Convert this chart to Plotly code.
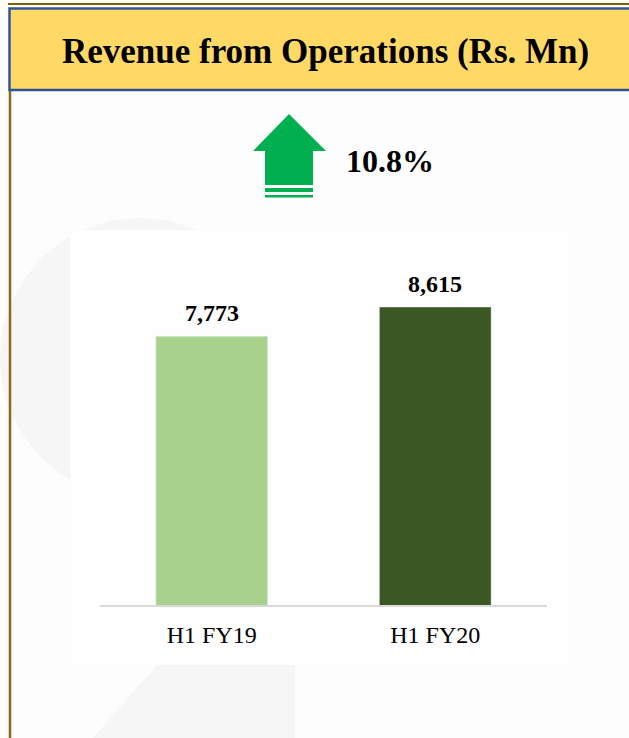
import plotly.graph_objects as go

categories = ["H1 FY19", "H1 FY20"]
revenue = [7773, 8615]
value_labels = ["7,773", "8,615"]
bar_colors = ["#A9D18E", "#3A5724"]
growth_label = "10.8%"
title_text = "Revenue from Operations (Rs. Mn)"

W, H = 629, 738
def fx(x): return x / W
def fy(y): return 1 - y / H

FONT = "Liberation Serif, Times New Roman, serif"

fig = go.Figure()
fig.add_trace(go.Bar(
    x=categories, y=revenue, marker_color=bar_colors, width=0.5,
    hoverinfo="skip",
))

# y scale: 0 at px 606, 8615 at px 307
px_per_unit = (606 - 307) / 8615
ymax = (606 - 230) / px_per_unit

shapes = []
# decorative faint background shapes
shapes.append(dict(type="circle", xref="paper", yref="paper",
                   x0=fx(0), x1=fx(280), y0=fy(218), y1=fy(498),
                   fillcolor="#F6F6F6", line=dict(width=0), layer="below"))
shapes.append(dict(type="path", xref="paper", yref="paper",
                   path=f"M {fx(157)} {fy(665)} L {fx(295)} {fy(665)} L {fx(295)} {fy(738)} L {fx(93)} {fy(738)} Z",
                   fillcolor="#F6F6F6", line=dict(width=0), layer="below"))
shapes.append(dict(type="rect", xref="paper", yref="paper",
                   x0=fx(70), x1=fx(570), y0=fy(230), y1=fy(665),
                   fillcolor="#FEFEFE", line=dict(width=0), layer="below"))
# outer gold borders
shapes.append(dict(type="line", xref="paper", yref="paper",
                   x0=fx(8), x1=fx(629), y0=fy(4), y1=fy(4),
                   line=dict(color="#7F6000", width=2)))
shapes.append(dict(type="line", xref="paper", yref="paper",
                   x0=fx(10), x1=fx(10), y0=fy(90), y1=fy(738),
                   line=dict(color="#8B6914", width=2.5)))
# header box
shapes.append(dict(type="rect", xref="paper", yref="paper",
                   x0=fx(9.5), x1=fx(632), y0=fy(90), y1=fy(8.5),
                   fillcolor="#FFD966", line=dict(color="#2F5597", width=2.5)))
# baseline
shapes.append(dict(type="line", xref="paper", yref="paper",
                   x0=fx(100), x1=fx(547), y0=fy(606), y1=fy(606),
                   line=dict(color="#D9D9D9", width=2)))
# arrow
arrow = [(289, 114), (253, 151), (265, 151), (265, 185), (313, 185), (313, 151), (326, 151)]
path = "M " + " L ".join(f"{fx(a)} {fy(b)}" for a, b in arrow) + " Z"
shapes.append(dict(type="path", xref="paper", yref="paper", path=path,
                   fillcolor="#00B050", line=dict(width=0)))
for y0, y1 in [(188, 192), (195, 197.5)]:
    shapes.append(dict(type="rect", xref="paper", yref="paper",
                       x0=fx(265), x1=fx(313), y0=fy(y1), y1=fy(y0),
                       fillcolor="#00B050", line=dict(width=0)))

annotations = [
    dict(text=f"<b>{title_text}</b>", x=fx(325), y=fy(52), xref="paper", yref="paper",
         showarrow=False, xanchor="center", yanchor="middle",
         font=dict(family=FONT, size=35, color="#000000")),
    dict(text=f"<b>{growth_label}</b>", x=fx(344), y=fy(161), xref="paper", yref="paper",
         showarrow=False, xanchor="left", yanchor="middle",
         font=dict(family=FONT, size=32, color="#000000")),
]
for c, v, lab in zip(categories, revenue, value_labels):
    annotations.append(dict(text=f"<b>{lab}</b>", x=c, y=v, xref="x", yref="y",
                            showarrow=False, xanchor="center", yanchor="middle",
                            yshift=23, font=dict(family=FONT, size=24, color="#000000")))

fig.update_layout(
    width=W, height=H, margin=dict(l=0, r=0, t=0, b=0),
    paper_bgcolor="#FDFDFD", plot_bgcolor="rgba(0,0,0,0)",
    showlegend=False, shapes=shapes, annotations=annotations,
    bargap=0.5,
    xaxis=dict(domain=[fx(100), fx(547)], showgrid=False, zeroline=False,
               showline=False, ticks="", ticklabelstandoff=12,
               tickfont=dict(family=FONT, size=24, color="#000000")),
    yaxis=dict(domain=[fy(606), fy(230)], range=[0, ymax], visible=False,
               showgrid=False, zeroline=False),
)

fig.write_html("out.html", config={"displayModeBar": False},
               post_script="document.body.style.margin='0';document.body.style.overflow='hidden';")
